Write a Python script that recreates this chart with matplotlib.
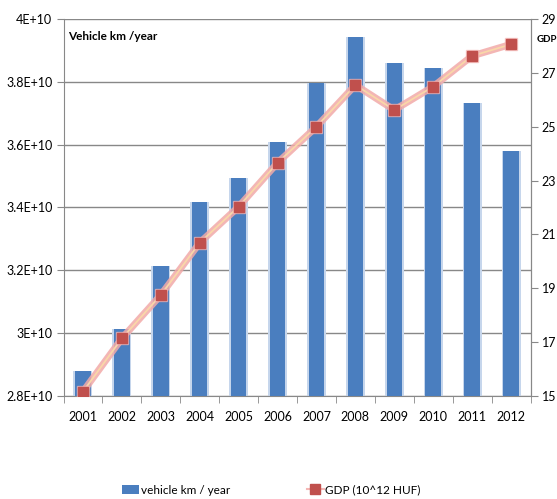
import matplotlib.pyplot as plt
import numpy as np
from matplotlib.ticker import FixedLocator
from matplotlib.patches import Patch
from matplotlib.lines import Line2D

plt.rcParams['font.family'] = ['Lato', 'DejaVu Sans']

years = ['2001', '2002', '2003', '2004', '2005', '2006',
         '2007', '2008', '2009', '2010', '2011', '2012']
vehicle_km = [2.88e10, 3.013e10, 3.214e10, 3.419e10, 3.495e10, 3.607e10,
              3.797e10, 3.944e10, 3.861e10, 3.843e10, 3.733e10, 3.581e10]
gdp = [15.16, 17.14, 18.75, 20.69, 22.03, 23.66,
       25.0, 26.55, 25.62, 26.49, 27.63, 28.06]
left_ticks = [2.8e10, 3.0e10, 3.2e10, 3.4e10, 3.6e10, 3.8e10, 4.0e10]
left_labels = ['2.8E+10', '3E+10', '3.2E+10', '3.4E+10', '3.6E+10', '3.8E+10', '4E+10']
right_ticks = [15, 17, 19, 21, 23, 25, 27, 29]

fig = plt.figure(figsize=(5.57, 4.99), dpi=100)
ax = fig.add_axes([63.5 / 557, 1 - 396 / 499, (530.5 - 63.5) / 557, (396 - 19) / 499])
x = np.arange(len(years))

# bars with soft glow
ax.bar(x, np.array(vehicle_km) - 2.8e10, bottom=2.8e10, width=0.49,
       color='#c6d6ec', zorder=2)
ax.bar(x, np.array(vehicle_km) - 2.8e10, bottom=2.8e10, width=0.40,
       color='#4a7ebf', zorder=3)

ax.set_xlim(-0.5, len(years) - 0.5)
ax.set_ylim(2.8e10, 4.0e10)
ax.set_yticks(left_ticks)
ax.set_yticklabels(left_labels)
ax.set_xticks(x)
ax.set_xticklabels(years)
ax.xaxis.set_minor_locator(FixedLocator(np.arange(-0.5, len(years), 1)))
ax.tick_params(axis='x', which='major', length=0, pad=11, labelsize=9)
ax.tick_params(axis='x', which='minor', length=5, color='#888888')
ax.tick_params(axis='y', length=5, color='#888888', labelsize=9, pad=3)
ax.grid(axis='y', color='#888888', linewidth=1, zorder=0)
ax.set_axisbelow(True)
ax.spines['top'].set_visible(False)
for s in ['left', 'bottom', 'right']:
    ax.spines[s].set_color('#888888')

ax.text(0.01, 0.968, 'Vehicle km /year', transform=ax.transAxes,
        fontsize=8.5, fontweight='bold', va='top', ha='left')

ax2 = ax.twinx()
ax2.set_ylim(15, 29)
ax2.set_yticks(right_ticks)
ax2.tick_params(axis='y', length=5, color='#888888', labelsize=9, pad=3)
ax2.spines['top'].set_visible(False)
ax2.spines['right'].set_color('#888888')
ax2.spines['left'].set_visible(False)
ax2.spines['bottom'].set_visible(False)

ax2.plot(x, gdp, color='#f2aaa8', linewidth=5, alpha=0.85, zorder=4,
         solid_capstyle='round')
ax2.plot(x, gdp, color='#f9d7a8', linewidth=1.3, zorder=5)
ax2.plot(x, gdp, linestyle='none', marker='s', markersize=9,
         color='#f4b6b4', alpha=0.7, zorder=6)
ax2.plot(x, gdp, linestyle='none', marker='s', markersize=6.5,
         color='#c0504d', zorder=7)

fig.text(537 / 557, 1 - 40 / 499, 'GDP', fontsize=7, fontweight='bold',
         ha='left', va='center')

# legend
h1 = Patch(facecolor='#4a7ebf')
h2 = Line2D([0], [0], color='#f4b6b4', linewidth=1.5, marker='s',
            markersize=7, markerfacecolor='#c0504d', markeredgecolor='#c0504d')
fig.legend([h1, h2], ['vehicle km / year', 'GDP (10^12 HUF)'],
           loc='center', bbox_to_anchor=(0.487, 1 - 490 / 499), ncol=2,
           frameon=False, fontsize=8.5, handlelength=1.5, handletextpad=0.1,
           columnspacing=6.5)

plt.savefig('out.png', dpi=100)
plt.close()
